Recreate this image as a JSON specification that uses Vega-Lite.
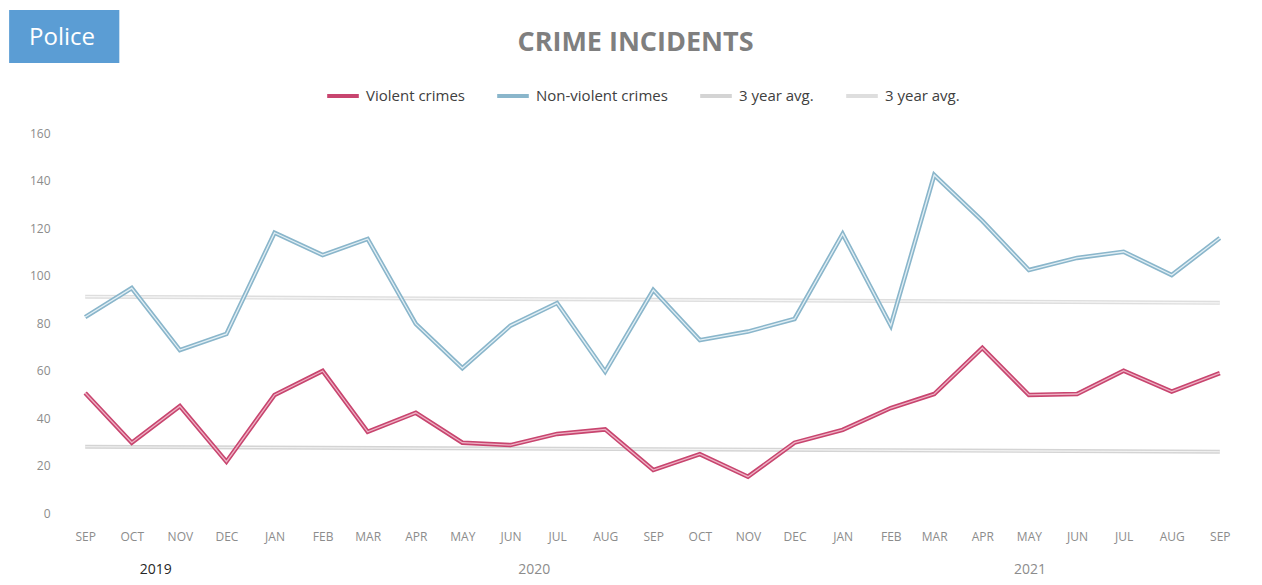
{
  "$schema": "https://vega.github.io/schema/vega-lite/v6.json",
  "width": 1175,
  "height": 380,
  "autosize": "none",
  "padding": {"left": 65, "top": 133, "right": 22, "bottom": 72},
  "background": "white",
  "title": {
    "text": "CRIME INCIDENTS",
    "frame": "group",
    "anchor": "middle",
    "dx": -17,
    "offset": -47,
    "font": "Open Sans",
    "fontSize": 27,
    "fontWeight": "bold",
    "color": "#7f7f7f"
  },
  "config": {
    "view": {"stroke": null},
    "font": "Open Sans"
  },
  "data": {
    "values": [
      {"date": "2019/09/01", "series": "Violent crimes", "value": 50.5},
      {"date": "2019/10/01", "series": "Violent crimes", "value": 29.6},
      {"date": "2019/11/01", "series": "Violent crimes", "value": 45},
      {"date": "2019/12/01", "series": "Violent crimes", "value": 21.6},
      {"date": "2020/01/01", "series": "Violent crimes", "value": 49.7},
      {"date": "2020/02/01", "series": "Violent crimes", "value": 59.8},
      {"date": "2020/03/01", "series": "Violent crimes", "value": 34.2},
      {"date": "2020/04/01", "series": "Violent crimes", "value": 42.2},
      {"date": "2020/05/01", "series": "Violent crimes", "value": 29.6},
      {"date": "2020/06/01", "series": "Violent crimes", "value": 28.6},
      {"date": "2020/07/01", "series": "Violent crimes", "value": 33.3},
      {"date": "2020/08/01", "series": "Violent crimes", "value": 35.2},
      {"date": "2020/09/01", "series": "Violent crimes", "value": 18.1},
      {"date": "2020/10/01", "series": "Violent crimes", "value": 24.8},
      {"date": "2020/11/01", "series": "Violent crimes", "value": 15.3},
      {"date": "2020/12/01", "series": "Violent crimes", "value": 29.6},
      {"date": "2021/01/01", "series": "Violent crimes", "value": 35},
      {"date": "2021/02/01", "series": "Violent crimes", "value": 44.2},
      {"date": "2021/03/01", "series": "Violent crimes", "value": 50.1},
      {"date": "2021/04/01", "series": "Violent crimes", "value": 69.5},
      {"date": "2021/05/01", "series": "Violent crimes", "value": 49.7},
      {"date": "2021/06/01", "series": "Violent crimes", "value": 50.1},
      {"date": "2021/07/01", "series": "Violent crimes", "value": 59.9},
      {"date": "2021/08/01", "series": "Violent crimes", "value": 51.1},
      {"date": "2021/09/01", "series": "Violent crimes", "value": 58.9},
      {"date": "2019/09/01", "series": "Non-violent crimes", "value": 82.5},
      {"date": "2019/10/01", "series": "Non-violent crimes", "value": 94.7},
      {"date": "2019/11/01", "series": "Non-violent crimes", "value": 68.6},
      {"date": "2019/12/01", "series": "Non-violent crimes", "value": 75.4},
      {"date": "2020/01/01", "series": "Non-violent crimes", "value": 118},
      {"date": "2020/02/01", "series": "Non-violent crimes", "value": 108.6},
      {"date": "2020/03/01", "series": "Non-violent crimes", "value": 115.4},
      {"date": "2020/04/01", "series": "Non-violent crimes", "value": 79.6},
      {"date": "2020/05/01", "series": "Non-violent crimes", "value": 61},
      {"date": "2020/06/01", "series": "Non-violent crimes", "value": 78.9},
      {"date": "2020/07/01", "series": "Non-violent crimes", "value": 88.4},
      {"date": "2020/08/01", "series": "Non-violent crimes", "value": 59.5},
      {"date": "2020/09/01", "series": "Non-violent crimes", "value": 93.9},
      {"date": "2020/10/01", "series": "Non-violent crimes", "value": 72.8},
      {"date": "2020/11/01", "series": "Non-violent crimes", "value": 76.4},
      {"date": "2020/12/01", "series": "Non-violent crimes", "value": 81.7},
      {"date": "2021/01/01", "series": "Non-violent crimes", "value": 117.5},
      {"date": "2021/02/01", "series": "Non-violent crimes", "value": 78.9},
      {"date": "2021/03/01", "series": "Non-violent crimes", "value": 142.3},
      {"date": "2021/04/01", "series": "Non-violent crimes", "value": 123},
      {"date": "2021/05/01", "series": "Non-violent crimes", "value": 102.3},
      {"date": "2021/06/01", "series": "Non-violent crimes", "value": 107.4},
      {"date": "2021/07/01", "series": "Non-violent crimes", "value": 110},
      {"date": "2021/08/01", "series": "Non-violent crimes", "value": 100.2},
      {"date": "2021/09/01", "series": "Non-violent crimes", "value": 115.8},
      {"date": "2019/09/01", "series": "avgV", "value": 27.9},
      {"date": "2021/09/01", "series": "avgV", "value": 25.8},
      {"date": "2019/09/01", "series": "avgN", "value": 91.1},
      {"date": "2021/09/01", "series": "avgN", "value": 88.5}
    ],
    "format": {"parse": {"date": "date"}}
  },
  "layer": [
    {
      "transform": [{"filter": {"field": "series", "oneOf": ["avgV", "avgN"]}}],
      "mark": {"type": "line", "strokeWidth": 4},
      "encoding": {
        "x": {
          "field": "date",
          "type": "temporal",
          "scale": {
            "domain": [
              {"year": 2019, "month": 8, "date": 19},
              {"year": 2021, "month": 9, "date": 14}
            ]
          },
          "axis": {
            "title": null,
            "tickCount": {"interval": "month", "step": 1},
            "labelExpr": "upper(timeFormat(datum.value, '%b'))",
            "labelFont": "Open Sans",
            "labelFontSize": 12,
            "labelColor": "#8c8c8c",
            "labelPadding": 18,
            "labelFlush": false,
            "labelOverlap": false,
            "domain": false,
            "ticks": false,
            "grid": false
          }
        },
        "y": {
          "field": "value",
          "type": "quantitative",
          "scale": {"domain": [0, 160]},
          "axis": {
            "title": null,
            "values": [0, 20, 40, 60, 80, 100, 120, 140, 160],
            "labelFont": "Open Sans",
            "labelFontSize": 12,
            "labelColor": "#8c8c8c",
            "labelPadding": 15,
            "domain": false,
            "ticks": false,
            "grid": false
          }
        },
        "color": {
          "field": "series",
          "type": "nominal",
          "scale": {
            "domain": ["Violent crimes", "Non-violent crimes", "avgV", "avgN"],
            "range": ["#c8456f", "#8ab6cb", "#d4d4d4", "#dedede"]
          },
          "legend": {
            "orient": "none",
            "legendX": 260,
            "legendY": -55,
            "direction": "horizontal",
            "title": null,
            "symbolType": "stroke",
            "symbolSize": 1000,
            "symbolStrokeWidth": 4,
            "labelFont": "Open Sans",
            "labelFontSize": 15,
            "labelColor": "#404040",
            "labelOffset": 5,
            "columnPadding": 24,
            "labelExpr": "indexof(['avgV', 'avgN'], datum.value) >= 0 ? '3 year avg.' : datum.label"
          }
        }
      }
    },
    {
      "transform": [{"filter": {"field": "series", "oneOf": ["avgV", "avgN"]}}],
      "mark": {"type": "line", "strokeWidth": 1.2},
      "encoding": {
        "x": {"field": "date", "type": "temporal"},
        "y": {"field": "value", "type": "quantitative"},
        "stroke": {
          "field": "series",
          "type": "nominal",
          "scale": {
            "domain": ["Violent crimes", "Non-violent crimes", "avgV", "avgN"],
            "range": ["#eeb3c5", "#e2eff5", "#f4f4f4", "#f6f6f6"]
          },
          "legend": null
        }
      }
    },
    {
      "transform": [{"filter": {"field": "series", "oneOf": ["Violent crimes", "Non-violent crimes"]}}],
      "mark": {"type": "line", "strokeWidth": 4.5},
      "encoding": {
        "x": {"field": "date", "type": "temporal"},
        "y": {"field": "value", "type": "quantitative"},
        "color": {"field": "series", "type": "nominal"}
      }
    },
    {
      "transform": [{"filter": {"field": "series", "oneOf": ["Violent crimes", "Non-violent crimes"]}}],
      "mark": {"type": "line", "strokeWidth": 1.3},
      "encoding": {
        "x": {"field": "date", "type": "temporal"},
        "y": {"field": "value", "type": "quantitative"},
        "stroke": {"field": "series", "type": "nominal", "legend": null}
      }
    },
    {
      "transform": [
        {"filter": {"field": "series", "equal": "Violent crimes"}},
        {"timeUnit": "year", "field": "date", "as": "yr"},
        {"aggregate": [{"op": "mean", "field": "date", "as": "mid"}], "groupby": ["yr"]}
      ],
      "mark": {"type": "text", "font": "Open Sans", "fontSize": 14, "baseline": "middle", "clip": false},
      "encoding": {
        "x": {"field": "mid", "type": "temporal"},
        "y": {"datum": -24, "type": "quantitative"},
        "text": {"field": "yr", "type": "temporal", "timeUnit": "year", "format": "%Y"},
        "color": {
          "condition": {"test": "year(datum.yr) == 2019", "value": "#262626"},
          "value": "#8c8c8c"
        }
      }
    },
    {
      "data": {"values": [{"label": "Police"}]},
      "mark": {"type": "rect", "color": "#5b9dd4", "clip": false},
      "encoding": {
        "x": {"datum": {"year": 2019, "month": 7, "date": 14}, "type": "temporal"},
        "x2": {"datum": {"year": 2019, "month": 9, "date": 23}},
        "y": {"datum": 211.8, "type": "quantitative"},
        "y2": {"datum": 189.5}
      }
    },
    {
      "data": {"values": [{"label": "Police"}]},
      "mark": {"type": "text", "font": "Open Sans", "fontSize": 24, "color": "white", "baseline": "middle", "align": "center", "dx": -3, "clip": false},
      "encoding": {
        "x": {"datum": {"year": 2019, "month": 8, "date": 19}, "type": "temporal"},
        "y": {"datum": 200, "type": "quantitative"},
        "text": {"field": "label"}
      }
    }
  ]
}
